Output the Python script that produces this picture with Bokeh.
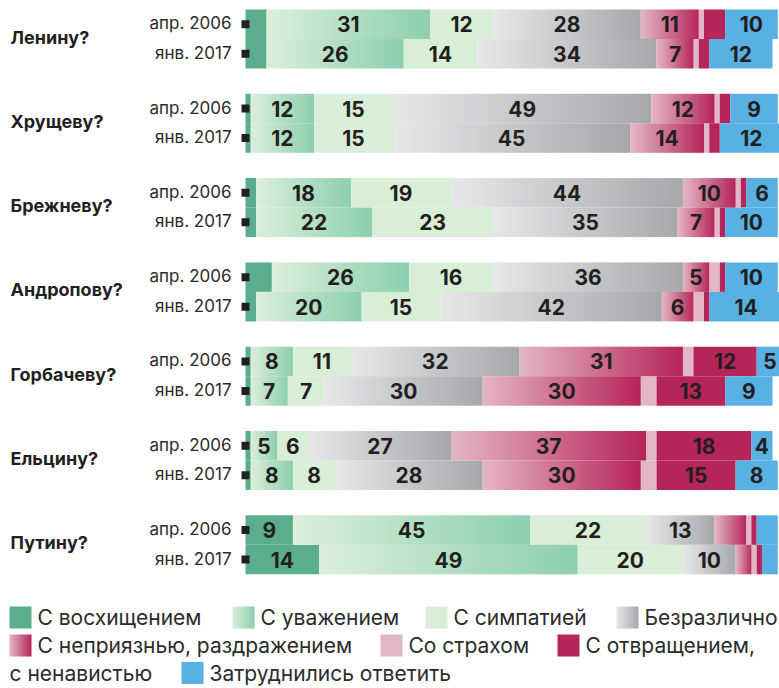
import numpy as np
from bokeh.plotting import figure
from bokeh.models import Range1d
from bokeh.core.properties import value
from bokeh.embed import file_html
from bokeh.resources import INLINE

# ---------------- data ----------------
leaders = ["Ленину?", "Хрущеву?", "Брежневу?", "Андропову?",
           "Горбачеву?", "Ельцину?", "Путину?"]
periods = ["апр. 2006", "янв. 2017"]
categories = ["С восхищением", "С уважением", "С симпатией", "Безразлично",
              "С неприязнью, раздражением", "Со страхом",
              "С отвращением, с ненавистью", "Затруднились ответить"]

# each list: leader by leader, [апр. 2006, янв. 2017]
admiration  = [4, 4,   1, 1,   2, 2,   5, 2,   1, 1,   1, 1,   9, 14]
respect     = [31, 26, 12, 12, 18, 22, 26, 20, 8, 7,   5, 8,   45, 49]
sympathy    = [12, 14, 15, 15, 19, 23, 16, 15, 11, 7,  6, 8,   22, 20]
indifferent = [28, 34, 49, 45, 44, 35, 36, 42, 32, 30, 27, 28, 13, 10]
hostility   = [11, 7,  12, 14, 10, 7,  5, 6,   31, 30, 37, 30, 6, 3]
fear        = [1, 1,   1, 1,   1, 1,   2, 2,   2, 3,   2, 3,   1, 1]
disgust     = [4, 2,   2, 2,   1, 1,   1, 1,   12, 13, 18, 15, 1, 1]
undecided   = [10, 12, 9, 12,  6, 10,  10, 14, 5, 9,   4, 8,   4, 3]

series = [admiration, respect, sympathy, indifferent, hostility, fear, disgust, undecided]

# labels: shown when value >= 5, with these exceptions (leader, period, category)
label_min = 5
label_hidden = [(3, 0, 0), (6, 0, 4)]
label_forced = [(5, 0, 7)]

# ---------------- styles ----------------
solid = {0: "#5bae8c", 2: "#d9eed6", 5: "#e2b6c6", 6: "#b5245a", 7: "#58b0e3"}
gradients = {1: ((220, 239, 218), (140, 207, 174)),
             3: ((230, 231, 233), (167, 168, 171)),
             4: ((228, 182, 197), (182, 36, 90))}
TXT = "#231f20"

W, H = 779, 688
PX = 5.27          # pixels per percent
X0 = 245           # pixel position of 0 %
GP = 84.3          # pitch between leader groups
TOP = 9.0          # top of first bar
BH = 29.5          # bar height


def fy(y):
    return H - y


def dx(px):
    return (px - X0) / PX


def grad_img(c1, c2, n=256):
    t = np.linspace(0.0, 1.0, n)[:, None]
    rgb = (1 - t) * np.array(c1, float) + t * np.array(c2, float)
    arr = np.zeros((2, n, 4), dtype=np.uint8)
    arr[:, :, :3] = np.round(rgb).astype(np.uint8)[None, :, :]
    arr[:, :, 3] = 255
    return np.ascontiguousarray(arr).view(np.uint32).reshape(2, n)


grad_arrays = {k: grad_img(*v) for k, v in gradients.items()}

p = figure(width=W, height=H, output_backend="svg", toolbar_location=None,
           x_range=Range1d(dx(0), dx(W)), y_range=Range1d(0, H),
           x_axis_type=None, y_axis_type=None, min_border=0)
p.grid.visible = False
p.outline_line_color = None
p.background_fill_color = "white"

# ---------------- bars ----------------
quads = {k: dict(left=[], right=[], top=[], bottom=[]) for k in solid}
imgs = {k: dict(x=[], y=[], dw=[], dh=[]) for k in gradients}
lab_x, lab_y, lab_t = [], [], []
row_c = []

for i in range(len(leaders)):
    for j in range(len(periods)):
        idx = i * len(periods) + j
        top = TOP + i * GP + j * BH
        row_c.append(top + BH / 2)
        left = 0.0
        for k, s in enumerate(series):
            v = s[idx]
            if k in solid:
                q = quads[k]
                q["left"].append(left); q["right"].append(left + v)
                q["top"].append(fy(top)); q["bottom"].append(fy(top + BH))
            else:
                im = imgs[k]
                im["x"].append(left); im["y"].append(fy(top + BH))
                im["dw"].append(v); im["dh"].append(BH)
            show = (v >= label_min and k != 5)
            if (i, j, k) in label_hidden:
                show = False
            if (i, j, k) in label_forced:
                show = True
            if show:
                lab_x.append(left + v / 2)
                lab_y.append(fy(top + BH / 2))
                lab_t.append(str(v))
            left += v

for k, q in quads.items():
    p.quad(left=q["left"], right=q["right"], top=q["top"], bottom=q["bottom"],
           fill_color=solid[k], line_color=None)
for k, im in imgs.items():
    n = len(im["x"])
    p.image_rgba(image=[grad_arrays[k]] * n, x=im["x"], y=im["y"],
                 dw=im["dw"], dh=im["dh"])

p.text(x=lab_x, y=lab_y, text=lab_t, text_font=value("Inter"),
       text_font_style="bold", text_font_size="21px", text_color=TXT,
       text_align="center", text_baseline="middle")

# row markers and period labels
p.scatter(x=[0] * len(row_c), y=[fy(c) for c in row_c], marker="square",
          size=8, fill_color=TXT, line_color=None)
p.text(x=[0] * len(row_c), y=[fy(c - 1) for c in row_c],
       text=[periods[n % 2] for n in range(len(row_c))], x_offset=-14,
       text_font=value("Inter"), text_font_size="17px", text_color="#2b2b2b",
       text_align="right", text_baseline="middle")

# leader names
p.text(x=[dx(10)] * len(leaders),
       y=[fy(TOP + i * GP + BH - 2) for i in range(len(leaders))],
       text=leaders, text_font=value("Inter"), text_font_style="bold",
       text_font_size="18px", text_color=TXT, text_align="left",
       text_baseline="middle")

# ---------------- legend ----------------
SW = 22
leg_rows = [617, 645, 672.5]
leg_items = [  # (category, row, swatch x)
    (0, 0, 9), (1, 0, 232), (2, 0, 425), (3, 0, 616),
    (4, 1, 9), (5, 1, 380), (6, 1, 557),
    (7, 2, 181),
]
leg_tx, leg_ty, leg_tt = [], [], []
for k, r, sx in leg_items:
    cy = leg_rows[r]
    if k in solid:
        p.quad(left=[dx(sx)], right=[dx(sx + SW)], top=[fy(cy - SW / 2)],
               bottom=[fy(cy + SW / 2)], fill_color=solid[k], line_color=None)
    else:
        p.image_rgba(image=[grad_arrays[k]], x=[dx(sx)], y=[fy(cy + SW / 2)],
                     dw=[SW / PX], dh=[SW])
    name = categories[k]
    if k == 6:
        first, second = name.split(", ")
        leg_tx += [dx(sx + SW + 6), dx(9)]
        leg_ty += [fy(cy), fy(leg_rows[2])]
        leg_tt += [first + ",", second]
    else:
        leg_tx.append(dx(sx + SW + 6))
        leg_ty.append(fy(cy))
        leg_tt.append(name)

p.text(x=leg_tx, y=leg_ty, text=leg_tt, text_font=value("Inter"),
       text_font_size="21px", text_color="#2b2b2b", text_align="left",
       text_baseline="middle")

open("out.html", "w").write(file_html(p, INLINE))
